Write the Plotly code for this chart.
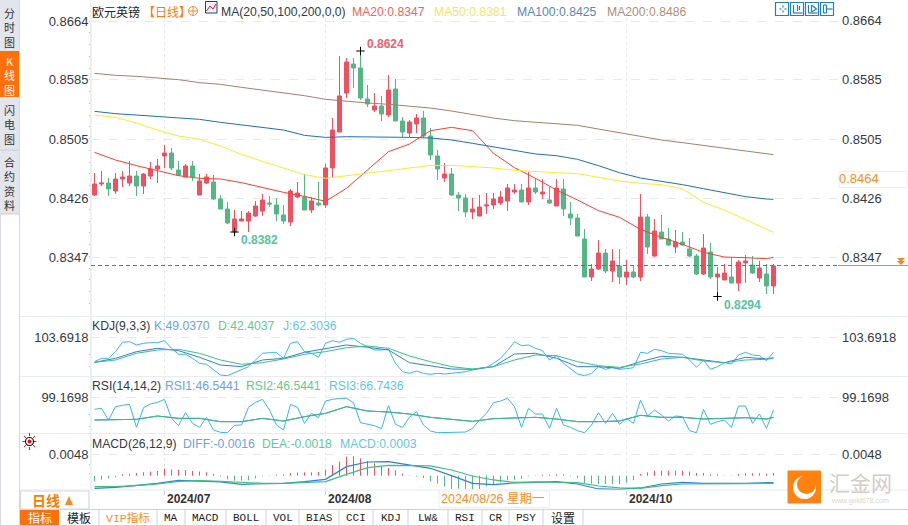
import pandas as pd
import plotly.graph_objects as go

W, H = 908, 526
dates = [d.strftime("%Y-%m-%d") for d in pd.bdate_range("2024-06-17", periods=98)]
ma_dates = dates[::3] + [dates[97]]

opens = [.84303,.84451,.84464,.84357,.84518,.84464,.84558,.84424,.84558,.84652,.84827,.84867,.84639,.84545,.84693,.84303,.84464,.84478,.84249,.84115,
 .83806,.83954,.83954,.84021,.84088,.84196,.84169,.84035,.83940,.84276,.84276,.84102,.84196,.84169,.84666,.85149,.85673,.86062,.86009,.85592,
 .85445,.85498,.85378,.85727,.85297,.85136,.85257,.85337,.85096,.84827,.84531,.84585,.84303,.84263,.84075,.84021,.84155,.84169,.84196,.84223,
 .84343,.84370,.84209,.84397,.84317,.84236,.84155,.84384,.84048,.83994,.83712,.83202,.83309,.83524,.83282,.83350,.83202,.83269,.83202,.84008,
 .83484,.83806,.83712,.83605,.83672,.83578,.83484,.83242,.83538,.83202,.83162,.83202,.83121,.83390,.83363,.83188,.83242,.83081]
closes = [.84451,.84464,.84384,.84518,.84545,.84558,.84424,.84585,.84652,.84693,.84867,.84666,.84572,.84693,.84545,.84491,.84545,.84249,.84115,.83927,
 .83981,.83981,.84061,.84155,.84236,.84182,.84048,.83954,.84357,.84330,.84102,.84223,.84169,.84666,.85176,.85633,.86089,.86009,.85606,.85525,
 .85498,.85391,.85713,.85297,.85149,.85284,.85337,.85096,.84840,.84652,.84585,.84303,.84263,.84075,.84115,.84142,.84169,.84249,.84276,.84397,
 .84370,.84209,.84397,.84343,.84343,.84196,.84397,.84115,.83994,.83752,.83202,.83309,.83524,.83282,.83417,.83202,.83269,.83202,.84008,.83605,
 .83820,.83712,.83632,.83672,.83632,.83484,.83242,.83591,.83202,.83242,.83256,.83121,.83403,.83417,.83256,.83323,.83081,.83350]
highs = [.84599,.84625,.84531,.84599,.84625,.84760,.84625,.84599,.84746,.84787,.84975,.84934,.84760,.84719,.84760,.84585,.84585,.84572,.84303,.84209,
 .84102,.84088,.84088,.84223,.84317,.84290,.84263,.84169,.84384,.84478,.84585,.84276,.84478,.84719,.85337,.86170,.86143,.86143,.86237,.85780,
 .85673,.85633,.85915,.85861,.85351,.85310,.85391,.85431,.85203,.84908,.84733,.84666,.84343,.84317,.84263,.84303,.84330,.84330,.84357,.84451,
 .84451,.84451,.84612,.84531,.84518,.84411,.84518,.84518,.84209,.84048,.83846,.83377,.83699,.83578,.83578,.83578,.83430,.83363,.84317,.84048,
 .83981,.84035,.83860,.83833,.83806,.83726,.83511,.83779,.83659,.83336,.83377,.83471,.83430,.83497,.83484,.83417,.83377,.83377]
lows = [.84290,.84424,.84290,.84317,.84411,.84424,.84290,.84317,.84518,.84464,.84666,.84639,.84558,.84545,.84491,.84303,.84451,.84236,.84115,.83914,
 .83806,.83954,.83806,.84008,.84021,.84142,.83954,.83914,.83887,.84263,.84102,.84061,.84155,.84129,.84531,.85149,.85606,.85740,.85579,.85485,
 .85418,.85297,.85351,.85297,.85082,.85082,.85136,.85069,.84773,.84505,.84478,.84290,.84088,.84008,.83981,.84021,.84048,.84115,.84169,.84088,
 .84317,.84209,.84169,.84317,.84249,.84182,.84155,.84021,.83900,.83752,.83202,.83148,.83296,.83256,.83135,.83108,.83095,.83188,.83148,.83511,
 .83471,.83712,.83618,.83524,.83618,.83471,.83228,.83228,.83175,.82940,.83162,.83121,.83014,.83121,.83242,.83135,.82974,.82974]

ma20 = [.84876,.84773,.84697,.84625,.84563,.84527,.84518,.84469,.84402,.84339,.84285,.84218,.84393,.84634,.84885,.84988,.85167,
 .85212,.85167,.84863,.84670,.84527,.84370,.84236,.84093,.84003,.83842,.83734,.83640,.83533,.83470,.83461,.83448,.83466]
ma50 = [.85377,.85346,.85270,.85176,.85095,.85051,.84961,.84849,.84755,.84661,.84576,.84527,.84563,.84598,.84625,.84661,.84701,
 .84701,.84688,.84666,.84634,.84616,.84603,.84590,.84545,.84491,.84460,.84442,.84388,.84204,.84101,.83976,.83842,.83802]
ma100 = [.85427,.85395,.85377,.85355,.85342,.85319,.85279,.85243,.85216,.85176,.85104,.85077,.85086,.85086,.85082,.85077,.85069,
 .85042,.84997,.84948,.84903,.84854,.84831,.84782,.84697,.84603,.84531,.84487,.84442,.84388,.84334,.84281,.84249,.84245]
ma200 = [.85937,.85910,.85897,.85870,.85852,.85812,.85789,.85749,.85713,.85677,.85637,.85588,.85561,.85539,.85521,.85498,.85471,
 .85431,.85382,.85337,.85301,.85283,.85266,.85239,.85189,.85140,.85082,.85042,.85006,.84970,.84930,.84898,.84863,.84845]

kdj_k = [41.2,51.2,67.8,76.2,70.3,53.7,34.5,30.3,47,51.2,66.2,74.5,84.5,78.7,72,40.3,32,24.5,23.7,30.3,62,63.7,51.2,30.3,30.3,26.2,42.8,56.2,53.7,47,40.3,53.7,49.5,52.8]
kdj_d = [41.2,47,63.7,72,73.7,63.7,47,36.2,40.3,49.5,61.2,67.8,77.8,82,76.2,57,42.8,30.3,24.5,30.3,47,59.5,57.8,42.8,32.8,28.7,37,49.5,53.7,44.5,40.3,47,48.7,51.2]
kdj_j = [42.8,51.2,51.2,67.8,91.2,92.8,84.5,88.7,90.3,90.3,95.3,76.2,61.2,61.2,51.2,38.7,36.2,22,9.5,7.8,15.3,22,30.3,47,63.7,65.3,65.3,51.2,88.7,92.8,67.8,63.7,53.7,
 88.7,95.3,91.2,98.7,101.2,88.7,80.3,72,72,73.7,38.7,17.8,13.7,19.5,13.7,11.2,13.7,12,13.7,15.3,17.8,22,26.2,28.7,38.7,51.2,70.3,92.8,82.8,84.5,76.2,70.3,47,57.8,38.7,
 26.2,12,7.8,13.7,30.3,23.7,28.7,23.7,25.3,27.8,66.2,63.7,73.7,70.3,63.7,62,61.2,47,28.7,47,23.7,30.3,40.3,37,59.5,66.2,59.5,57.8,45.3,66.2]

rsi1 = [41.1,42.9,42.9,51.4,45.4,45.4,36.9,36.9,45.4,38.6,49.7,58.2,75.3,64.2,61.6,56.5,48,42.9,37.7,44.6,45.4,48,43.7,36.9,36.9,38.6,53.1,48,48,43.7,45.4,47.1,43.7,48]
rsi2 = list(rsi1)
rsi3 = [68.5,71,41.1,75.3,78.7,81.2,22.4,72.7,82.1,86.4,94,45.4,26.6,59.9,32.6,22.4,48,15.6,9.6,8.7,27.5,28.4,73.6,86.4,94,66.7,28.4,15.6,81.2,73.6,32.6,58.2,47.1,
 89.8,94,96.6,96.6,85.5,34.3,30.9,26.6,19,77.8,30.1,22.4,48,62.5,28.4,13,8.7,8.7,9.6,8.7,10.4,19.8,41.1,58.2,85.5,89.8,96.6,75.3,22.4,71,56.5,56.5,19.8,71,28.4,22.4,
 13.8,8.7,28.4,59.9,32.6,58.2,30.1,45.4,32.6,92.3,51.4,66.7,53.9,38.6,51.4,49.7,13.8,8.7,68.5,30.1,36.9,41.1,22.4,77,77,32.6,56.5,19.8,66.7]

macd_diff = [-.00293,-.0027,-.00224,-.00177,-.00108,-.00123,-.00146,-.002,-.00185,-.00177,-.00139,-.00085,.00208,.00316,.00324,.00247,.0017,0,
 -.00177,-.00208,-.0017,-.00154,-.00139,-.00193,-.00308,-.00316,-.00285,-.00193,-.00154,-.00177,-.00185,-.00177,-.00162,-.00162]
macd_dea = [-.00254,-.00254,-.00231,-.00193,-.00131,-.00116,-.00131,-.00162,-.00177,-.00177,-.00154,-.00139,.00031,.00185,.00239,.00231,.00224,.00131,
 -.00008,-.001,-.00154,-.00146,-.00154,-.00162,-.00239,-.00285,-.00293,-.00231,-.00193,-.00193,-.002,-.00185,-.00177,-.00177]
macd_hist = [-.00123,-.00093,-.00062,-.00039,.00031,.00046,.00062,.00077,.00093,.00108,.00162,.00139,.00131,.00131,.00108,.00093,.00077,.00039,-.00023,-.00085,
 -.00116,-.00116,-.00108,-.00062,-.00015,-.00008,.00023,.00031,.00062,.00069,.00077,.00077,.00085,.00139,.00247,.00324,.00439,.00447,.00401,.00339,
 .00285,.00208,.00177,.00123,.00046,-.00008,-.00023,-.00054,-.00131,-.00185,-.00247,-.00308,-.00301,-.00308,-.00316,-.00308,-.00247,-.00208,-.00154,-.00108,
 -.00093,-.00077,-.00015,-.00008,.00023,.00023,.00031,.00031,-.00015,-.00054,-.0017,-.00185,-.00193,-.00193,-.00193,-.00193,-.00162,-.00108,.00039,.00077,
 .00116,.00116,.00116,.00116,.00116,.00093,.00062,.00062,.00031,.00031,-.00008,-.00008,.00039,.00054,.00054,.00054,.00039,.00062]

price_ticks = [.8664,.8585,.8505,.8426,.8347]
price_labels = ["0.8664","0.8585","0.8505","0.8426","0.8347"]
month_ticks = [("2024-07-01","2024/07"),("2024-08-01","2024/08"),("2024-10-01","2024/10")]
last_price = .83356
extremes = [(dates[38],.86237,"0.8624","#f0606f",5,-7),(dates[20],.83806,"0.8382","#55c4a0",5,8),(dates[89],.82940,"0.8294","#55c4a0",5,8)]

RED, GREEN = "#f0505f", "#53b885"
BLUE, TEAL, LIME = "#2f7ee0", "#38b6e8", "#3cc07f"
SANS = "Liberation Sans, Arial"
CJK = "Noto Sans CJK SC"
MONO = "Liberation Mono"
TXT = "#333a45"

fig = go.Figure()
fig.add_trace(go.Candlestick(x=dates, open=opens, high=highs, low=lows, close=closes, whiskerwidth=0,
    increasing=dict(line=dict(color=RED, width=1), fillcolor=RED),
    decreasing=dict(line=dict(color=GREEN, width=1), fillcolor=GREEN), xaxis="x", yaxis="y"))
for vals, c in [(ma20,"#ff3b30"),(ma50,"#ffe92e"),(ma100,"#1f6fb8"),(ma200,"#a87f68")]:
    fig.add_trace(go.Scatter(x=ma_dates, y=vals, mode="lines", line=dict(color=c, width=1), xaxis="x", yaxis="y"))
fig.add_trace(go.Scatter(x=[e[0] for e in extremes], y=[e[1] for e in extremes], mode="markers",
    marker=dict(symbol="cross-thin", size=6, line=dict(color="#000", width=1)), xaxis="x", yaxis="y"))
for xs, vals, c in [(dates,kdj_j,TEAL),(ma_dates,kdj_k,BLUE),(ma_dates,kdj_d,LIME)]:
    fig.add_trace(go.Scatter(x=xs, y=vals, mode="lines", line=dict(color=c, width=1), xaxis="x2", yaxis="y2"))
for xs, vals, c in [(dates,rsi3,TEAL),(ma_dates,rsi1,BLUE),(ma_dates,rsi2,LIME)]:
    fig.add_trace(go.Scatter(x=xs, y=vals, mode="lines", line=dict(color=c, width=1), xaxis="x3", yaxis="y3"))
for sign, c in [(1,RED),(-1,GREEN)]:
    bx, by = [], []
    for d, v in zip(dates, macd_hist):
        if v*sign > 0:
            bx += [d, d, None]; by += [0, v, None]
    fig.add_trace(go.Scatter(x=bx, y=by, mode="lines", line=dict(color=c, width=1), connectgaps=False, xaxis="x4", yaxis="y4"))
for vals, c in [(macd_diff,BLUE),(macd_dea,LIME)]:
    fig.add_trace(go.Scatter(x=ma_dates, y=vals, mode="lines", line=dict(color=c, width=1.2), xaxis="x4", yaxis="y4"))

LEFT, RIGHT = 91, 840
xrange = [(LEFT-94.5)/7, (RIGHT-94.5)/7]
xdom = [LEFT/W, RIGHT/W]
def xax(anchor, ticks=False):
    d = dict(type="category", categoryorder="array", categoryarray=dates, domain=xdom, range=xrange, anchor=anchor,
             tickmode="array", tickvals=[m[0] for m in month_ticks], showticklabels=False,
             showgrid=True, gridcolor="#e9e9e9", griddash="dot", gridwidth=1, zeroline=False, showline=False, ticks="", rangeslider=dict(visible=False))
    if ticks:
        d.update(ticks="outside", ticklen=4, tickcolor="#c9ced6", tickwidth=1)
    return d
def yax(y0, y1, rng, tv, tt, minor):
    return dict(domain=[1-y1/H, 1-y0/H], range=rng, anchor="free", position=LEFT/W, side="left",
                tickmode="array", tickvals=tv, ticktext=tt, tickfont=dict(family=SANS, size=13, color=TXT),
                ticks="", showgrid=True, gridcolor="#e9e9e9", griddash="dash", gridwidth=1, zeroline=False,
                showline=True, linecolor="#eef1f4", linewidth=1,
                minor=dict(ticks="outside", ticklen=2, tickcolor="#bdbdbd", tickmode="array", tickvals=minor))

main_r = [.86922-.0001343*316, .86922-.0001343*18]
minor_main = [.8664-i*.00158 for i in range(25)]
fig.update_layout(
    width=W, height=H, autosize=False, margin=dict(l=0,r=0,t=0,b=0,autoexpand=False), showlegend=False,
    paper_bgcolor="#fff", plot_bgcolor="#fff", boxgap=0.18,
    xaxis=xax("y"), xaxis2=xax("y2"), xaxis3=xax("y3"), xaxis4=xax("y4", True),
    yaxis=yax(18,316,main_r,price_ticks,price_labels,minor_main),
    yaxis2=yax(316.5,376,[7,155.7],[103.6918],["103.6918"],[60,30]),
    yaxis3=yax(376.5,433,[7.9,152.5],[99.1698],["99.1698"],[55,25]),
    yaxis4=yax(433.5,490,[-.00332,.00975],[.0048],["0.0048"],[.0026,.0004]),
)

anns, shapes = [], []
def T(x, y, text, size=12.2, color=TXT, anchor="left", family=SANS):
    if anchor == "left":
        x -= 1
    anns.append(dict(xref="paper", yref="paper", x=x/W, y=1-y/H, text=text, showarrow=False, xanchor=anchor, yanchor="middle",
                     font=dict(size=size, color=color, family=family), borderpad=0))
def R(x0, y0, x1, y1, fill=None, line=None, lw=1, kind="rect", **kw):
    shapes.append(dict(type=kind, xref="paper", yref="paper", x0=x0/W, x1=x1/W, y0=1-y0/H, y1=1-y1/H,
                       fillcolor=fill or "rgba(0,0,0,0)", line=dict(color=line or "rgba(0,0,0,0)", width=lw if line else 0), layer="above", **kw))
def L(x0, y0, x1, y1, color, lw=1, dash=None):
    shapes.append(dict(type="line", xref="paper", yref="paper", x0=x0/W, x1=x1/W, y0=1-y0/H, y1=1-y1/H, line=dict(color=color, width=lw, dash=dash or "solid"), layer="above"))

# side rail
R(0,0,19.5,214,fill="#e2e5ec")
R(0,51,19.5,97,fill="#ff6f0a")
L(0,150,19.5,150,"#c9cdd6")
L(0,214,19.5,214,"#c9cdd6")
L(19.5,0,19.5,526,"#d3d9e2")
L(.5,214,.5,526,"#d9dde3")
T(9.7,27,"分<br>时<br>图",11,"#333",anchor="center",family=CJK)
T(9.7,125,"闪<br>电<br>图",11,"#333",anchor="center",family=CJK)
T(9.7,183.5,"合<br>约<br>资<br>料",11,"#333",anchor="center",family=CJK)
T(9.7,75,"K<br>线<br>图",11,"#fff",anchor="center",family=CJK)

# pane separators
for y in (316.5,376.5,433.5,490):
    L(20,y,W,y,"#e6ecf0")
L(90.5,0,90.5,490,"#eceff2")
L(20,509.5,W,509.5,"#ccd3dc",1.2)
L(0,525.5,W,525.5,"#ccd3dc",1)

# headers
HY = 11.5
T(92,HY,"欧元英镑",12,"#222",family=CJK)
T(143,HY,"【日线】",12,"#ff7a00",family=CJK)
R(188.5,6.5,197.5,15.5,line="#f08a3c",kind="circle")
L(188.5,11,197.5,11,"#f08a3c"); L(193,6.5,193,15.5,"#f08a3c")
R(205.5,1.5,217,13,fill="#eef3fb",line="#1b3f8f")
L(206.5,11,210,6,"#e02020"); L(210,6,213,9,"#e02020"); L(213,9,216,4,"#e02020")
T(221,HY,"MA(20,50,100,200,0,0)",12.2,TXT)
T(352,HY,"MA20:0.8347",12.2,"#f4635c")
T(434,HY,"MA50:0.8381",12.2,"#f3e36a")
T(517,HY,"MA100:0.8425",12.2,"#5a86bd")
T(607,HY,"MA200:0.8486",12.2,"#b08f75")

T(92,325.5,"KDJ(9,3,3)",12.2,TXT)
T(154,325.5,"K:49.0370",12.2,"#6d9ef0")
T(218,325.5,"D:42.4037",12.2,"#62c98f")
T(283,325.5,"J:62.3036",12.2,"#5ec7e8")
T(92,385.5,"RSI(14,14,2)",12.2,TXT)
T(165,385.5,"RSI1:46.5441",12.2,"#6d9ef0")
T(246,385.5,"RSI2:46.5441",12.2,"#62c98f")
T(329,385.5,"RSI3:66.7436",12.2,"#5ec7e8")
T(92,443.5,"MACD(26,12,9)",12.2,TXT)
T(183,443.5,"DIFF:-0.0016",12.2,"#6d9ef0")
T(262,443.5,"DEA:-0.0018",12.2,"#62c98f")
T(340,443.5,"MACD:0.0003",12.2,"#5ec7e8")

# right scale labels
RLX = 840/W
for lab, v in zip(price_labels, price_ticks):
    anns.append(dict(xref="paper", yref="y", x=RLX, y=v, text=lab, showarrow=False, xanchor="left", yanchor="middle", font=dict(family=SANS,size=13,color=TXT)))
anns.append(dict(xref="paper", yref="y2", x=RLX, y=103.6918, text="103.6918", showarrow=False, xanchor="left", yanchor="middle", font=dict(family=SANS,size=13,color=TXT)))
anns.append(dict(xref="paper", yref="y3", x=RLX, y=99.1698, text="99.1698", showarrow=False, xanchor="left", yanchor="middle", font=dict(family=SANS,size=13,color=TXT)))
anns.append(dict(xref="paper", yref="y4", x=RLX, y=.0048, text="0.0048", showarrow=False, xanchor="left", yanchor="middle", font=dict(family=SANS,size=13,color=TXT)))

# crosshair price box
R(839,171.5,907,187.5,fill="#fff",line="#eeeeee")
T(839,178.5,"0.8464",13,"#ff8a1e")

# extremes labels
for d, v, txt, c, dx, dy in extremes:
    anns.append(dict(xref="x", yref="y", x=d, y=v, text="<b>"+txt+"</b>", showarrow=False, xanchor="left", yanchor="middle", xshift=dx-1, yshift=-dy,
                     font=dict(family=SANS, size=12, color=c)))

# last price line
shapes.append(dict(type="line", xref="paper", yref="y", x0=LEFT/W, x1=838/W, y0=last_price, y1=last_price, line=dict(color="#1e80e8", width=1, dash="4px,3px"), layer="above"))
shapes.append(dict(type="line", xref="paper", yref="y", x0=838/W, x1=1, y0=last_price, y1=last_price, line=dict(color="#f08a1e", width=1.2), layer="above"))
for y0 in (258,261):
    shapes.append(dict(type="path", xref="paper", yref="paper", path=f"M {897/W} {1-y0/H} L {905/W} {1-y0/H} L {901/W} {1-(y0+4)/H} Z", fillcolor="#f08a1e", line=dict(width=0), layer="above"))

# toolbar icons
for x in (775,790,805,820):
    R(x+.5,2.5,x+13.5,15.5,fill="#fff",line="#1f80c8",lw=1.2)
for (x0,y0,x1,y1) in [(779,9,781,9),(784,9,786,9),(782.5,5.5,782.5,7.5),(782.5,10.5,782.5,12.5),
                      (793,5,793,13),(793,13,802,13),(797,5,797,11),(799,6,799,10),
                      (808,5,808,13),(808,13,817,13),(811,5,811,12),(811,5,816,9),(811,12,816,9),
                      (823,5,823,13),(826,5,826,13),(823,5,826,5),(823,13,826,13),(826,9,832,9)]:
    L(x0+.5,y0,x1+.5,y1,"#1f80c8",1.2)

# sun icon
R(25.5,437.5,33.5,445.5,fill="#fff",line="#111",lw=1.2,kind="circle")
R(27.5,439.5,31.5,443.5,fill="#e8141c",kind="circle")
for x0,y0,x1,y1 in [(29.5,433,29.5,436),(29.5,447,29.5,450),(22.5,441.5,25,441.5),(34,441.5,36.5,441.5),(24,436,26,438),(33,445,35,447),(24,447,26,445),(33,438,35,436)]:
    L(x0,y0,x1,y1,"#e8141c",1)

# bottom time row
R(20.5,491,89,509,line="#d3d9e2",lw=1.2)
T(46,500,"<b>日线</b>",14,"#ff7a00",anchor="center",family=CJK)
shapes.append(dict(type="path", xref="paper", yref="paper", path=f"M {65/W} {1-505/H} L {73/W} {1-505/H} L {69/W} {1-496/H} Z", fillcolor="#f98a2a", line=dict(width=0), layer="above"))
for d, lab in month_ticks:
    anns.append(dict(xref="x4", yref="paper", x=d, y=1-499/H, text="<b>"+lab+"</b>", showarrow=False, xanchor="left", yanchor="middle", xshift=0,
                     font=dict(family=SANS, size=12, color="#333")))
R(439,491,549.5,507.5,fill="#fff",line="#eeeeee")
T(441,499,"2024/08/26 星期一",12.5,"#ff8a1e",family=SANS+", "+CJK)

# tab bar
tabs = [(20,59,"指标"),(59,99,"模板"),(99,157,"VIP指标"),(157,185,"MA"),(185,226,"MACD"),(226,266,"BOLL"),(266,299,"VOL"),(299,339,"BIAS"),
        (339,373,"CCI"),(373,408,"KDJ"),(408,448,"LW&"),(448,482,"RSI"),(482,509,"CR"),(509,543,"PSY"),(543,583,"设置")]
R(20,510,59,525,fill="#ff6f0a")
for x0,x1,lab in tabs:
    if x0>20: L(x1,510,x1,525,"#ccd3dc")
    cjk = lab in ("指标","模板","设置")
    col = "#fff" if lab=="指标" else ("#ff8a1e" if lab=="VIP指标" else "#222")
    if lab=="VIP指标":
        T((x0+x1)/2,517.5,lab,11.5,col,anchor="center",family="Liberation Mono, "+CJK)
    else:
        T((x0+x1)/2,517.5,lab,12 if cjk else 11,col,anchor="center",family=CJK if cjk else MONO)

# watermark
R(788,471,820.5,503,fill="#ff820f",line="#ff820f")
R(793,476,816,499,fill="#fff",kind="circle")
R(797,475,816,494,fill="#ff820f",kind="circle")
T(860,482,"汇金网",21,"#d3cdc6",anchor="center",family=CJK)
T(860,501,"www.gold678.com",7,"#d9d4cf",anchor="center")

fig.update_layout(annotations=anns, shapes=shapes)
fig.write_html("out.html", config=dict(displayModeBar=False), post_script="document.body.style.margin='0';document.body.style.overflow='hidden';")
